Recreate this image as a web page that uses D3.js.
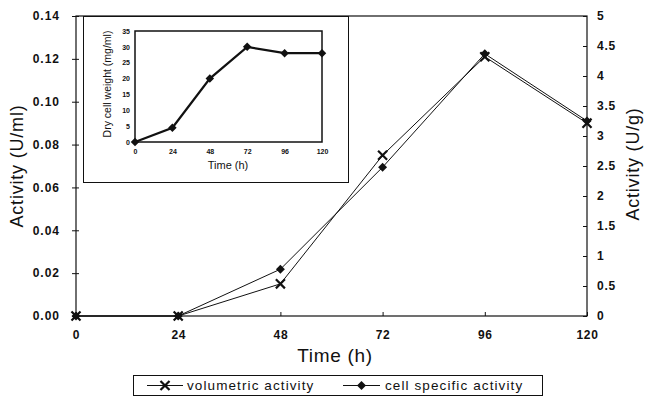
<!DOCTYPE html>
<html>
<head>
<meta charset="utf-8">
<script src="https://cdn.jsdelivr.net/npm/d3@7"></script>
<style>
body { margin: 0; background: #fff; }
svg { font-family: "Liberation Sans", Arial, sans-serif; }
</style>
</head>
<body>
<script>
var hours = [0, 24, 48, 72, 96, 120]
var volumetric = [0, 0, 0.015, 0.075, 0.121, 0.090]
var cellSpecific = [0, 0, 0.78, 2.48, 4.37, 3.25]
var dryWeight = [0, 4.5, 20, 30, 28, 28]
var leftTicks = [0, 0.02, 0.04, 0.06, 0.08, 0.10, 0.12, 0.14]
var rightTicks = [0, 0.5, 1, 1.5, 2, 2.5, 3, 3.5, 4, 4.5, 5]
var insetTicks = [0, 5, 10, 15, 20, 25, 30, 35]
var legendLabels = ["volumetric activity", "cell specific activity"]

var width = 650, height = 396
var ink = "#111"

var svg = d3.select("body").append("svg")
.attr("width", width)
.attr("height", height)

// main scales
var x = d3.scaleLinear().domain([0, 120]).range([76, 587])
var yL = d3.scaleLinear().domain([0, 0.14]).range([316, 16])
var yR = d3.scaleLinear().domain([0, 5]).range([316, 16])

// frame
svg.append("rect")
.attr("x", x(0)).attr("y", yL(0.14))
.attr("width", x(120) - x(0)).attr("height", yL(0) - yL(0.14))
.attr("fill", "none").attr("stroke", ink).attr("stroke-width", 1.2)

// left axis
var gl = svg.append("g").attr("transform", "translate(" + x(0) + ",0)")
.call(d3.axisLeft(yL).tickValues(leftTicks).tickFormat(d3.format(".2f")).tickSize(4).tickPadding(12))
gl.select(".domain").remove()
gl.selectAll(".tick line").attr("x1", 3).attr("stroke", ink)
gl.selectAll("text").style("font-size", "12px").style("font-weight", "bold").style("letter-spacing", "1px").attr("fill", ink)

// right axis
var gr = svg.append("g").attr("transform", "translate(" + x(120) + ",0)")
.call(d3.axisRight(yR).tickValues(rightTicks).tickFormat(d3.format("")).tickSize(-4).tickPadding(10))
gr.select(".domain").remove()
gr.selectAll(".tick line").attr("stroke", ink)
gr.selectAll("text").style("font-size", "12px").style("font-weight", "bold").style("letter-spacing", "0.8px").attr("fill", ink)

// bottom axis
var gb = svg.append("g").attr("transform", "translate(0," + yL(0) + ")")
.call(d3.axisBottom(x).tickValues(hours).tickSize(-4).tickPadding(14))
gb.select(".domain").remove()
gb.selectAll(".tick line").attr("stroke", ink)
gb.selectAll("text").style("font-size", "12px").style("font-weight", "bold").style("letter-spacing", "0.6px").attr("fill", ink)

// axis titles
svg.append("text")
.attr("transform", "translate(23,166) rotate(-90)")
.attr("text-anchor", "middle")
.style("font-size", "18px").style("letter-spacing", "0.8px").attr("fill", ink)
.text("Activity (U/ml)")

svg.append("text")
.attr("transform", "translate(639,164) rotate(-90)")
.attr("text-anchor", "middle")
.style("font-size", "18px").style("letter-spacing", "0.8px").attr("fill", ink)
.text("Activity (U/g)")

svg.append("text")
.attr("x", 335).attr("y", 362)
.attr("text-anchor", "middle")
.style("font-size", "19px").style("letter-spacing", "0.7px").attr("fill", ink)
.text("Time (h)")

// series
var volLine = d3.line().x(function(d, i) { return x(hours[i]) }).y(function(d) { return yL(d) })
var cellLine = d3.line().x(function(d, i) { return x(hours[i]) }).y(function(d) { return yR(d) })

svg.append("path").attr("d", volLine(volumetric))
.attr("fill", "none").attr("stroke", ink).attr("stroke-width", 1)
svg.append("path").attr("d", cellLine(cellSpecific))
.attr("fill", "none").attr("stroke", ink).attr("stroke-width", 1)

var cross = d3.symbol().type(d3.symbolX).size(55)
var diamond = d3.symbol().type(d3.symbolSquare).size(40)

svg.selectAll(".volpt").data(volumetric).enter().append("path")
.attr("class", "volpt")
.attr("d", cross)
.attr("transform", function(d, i) { return "translate(" + x(hours[i]) + "," + yL(d) + ")" })
.attr("fill", "none").attr("stroke", ink).attr("stroke-width", 2.2)

svg.selectAll(".cellpt").data(cellSpecific).enter().append("path")
.attr("class", "cellpt")
.attr("d", diamond)
.attr("transform", function(d, i) { return "translate(" + x(hours[i]) + "," + yR(d) + ") rotate(45)" })
.attr("fill", ink)

// inset
svg.append("rect")
.attr("x", 83.5).attr("y", 16.5).attr("width", 265).attr("height", 166)
.attr("fill", "#fff").attr("stroke", ink).attr("stroke-width", 1)

var xi = d3.scaleLinear().domain([0, 120]).range([135, 322])
var yi = d3.scaleLinear().domain([0, 35]).range([142, 31])

svg.append("rect")
.attr("x", xi(0)).attr("y", yi(35))
.attr("width", xi(120) - xi(0)).attr("height", yi(0) - yi(35))
.attr("fill", "none").attr("stroke", ink).attr("stroke-width", 1.5)

var gil = svg.append("g").attr("transform", "translate(" + xi(0) + ",0)")
.call(d3.axisLeft(yi).tickValues(insetTicks).tickSize(0).tickPadding(5))
gil.select(".domain").remove()
gil.selectAll("text").style("font-size", "7px").style("font-weight", "bold").attr("fill", ink)

var gib = svg.append("g").attr("transform", "translate(0," + yi(0) + ")")
.call(d3.axisBottom(xi).tickValues(hours).tickSize(0).tickPadding(7))
gib.select(".domain").remove()
gib.selectAll("text").style("font-size", "7px").style("font-weight", "bold").attr("fill", ink)

svg.append("text")
.attr("transform", "translate(111,84) rotate(-90)")
.attr("text-anchor", "middle")
.style("font-size", "10.5px").attr("fill", ink)
.text("Dry cell weight (mg/ml)")

svg.append("text")
.attr("x", 228).attr("y", 169)
.attr("text-anchor", "middle")
.style("font-size", "11px").attr("fill", ink)
.text("Time (h)")

var dryLine = d3.line().x(function(d, i) { return xi(hours[i]) }).y(function(d) { return yi(d) })
svg.append("path").attr("d", dryLine(dryWeight))
.attr("fill", "none").attr("stroke", ink).attr("stroke-width", 2.2)

svg.selectAll(".drypt").data(dryWeight).enter().append("path")
.attr("class", "drypt")
.attr("d", d3.symbol().type(d3.symbolSquare).size(36))
.attr("transform", function(d, i) { return "translate(" + xi(hours[i]) + "," + yi(d) + ") rotate(45)" })
.attr("fill", ink)

// legend
var lg = svg.append("g")
lg.append("rect")
.attr("x", 133.5).attr("y", 375.5).attr("width", 409).attr("height", 20)
.attr("fill", "#fff").attr("stroke", ink).attr("stroke-width", 1)

var legendItems = [
  { x1: 147, x2: 183, tx: 187, sym: cross, fill: "none", stroke: ink, rot: 0 },
  { x1: 343, x2: 380, tx: 385, sym: diamond, fill: ink, stroke: "none", rot: 45 }
]
legendItems.forEach(function(it, i) {
  lg.append("line").attr("x1", it.x1).attr("x2", it.x2).attr("y1", 385.5).attr("y2", 385.5)
  .attr("stroke", ink).attr("stroke-width", 1)
  lg.append("path").attr("d", it.sym)
  .attr("transform", "translate(" + ((it.x1 + it.x2) / 2) + ",385.5) rotate(" + it.rot + ")")
  .attr("fill", it.fill).attr("stroke", it.stroke).attr("stroke-width", 2.2)
  lg.append("text").attr("x", it.tx).attr("y", 390)
  .style("font-size", "13.5px").style("letter-spacing", "1.1px").attr("fill", ink)
  .text(legendLabels[i])
})
</script>
</body>
</html>
